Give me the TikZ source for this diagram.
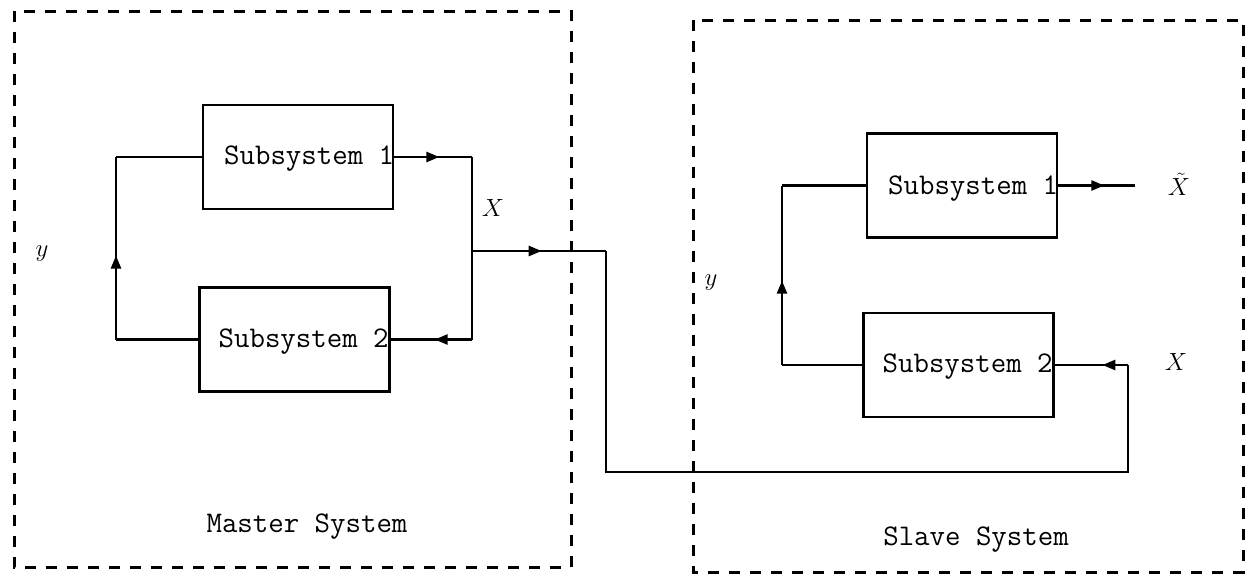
\documentclass[tikz,border=0pt]{standalone}
\usepackage{fontspec}
\usetikzlibrary{arrows.meta,decorations.markings}
\begin{document}
\begin{tikzpicture}[x=1pt,y=-1pt,
  line join=miter,
  sysbox/.style={draw,line width=3pt,dash pattern=on 11pt off 10pt},
  subbox/.style={draw,line width=2.6pt,minimum width=190pt,minimum height=104pt,inner sep=0pt},
  tt/.style={font=\fontsize{30}{36}\selectfont\ttfamily,inner sep=0pt},
  mathlbl/.style={font=\fontsize{34}{40}\selectfont,inner sep=0pt},
  wire/.style={draw,line width=2.5pt},
  arrowat/.style={postaction={decorate},decoration={markings,
     mark=at position #1 with {\arrow{Triangle[length=13pt,width=10pt]}}}}
]
\useasboundingbox (0,0) rectangle (1250,576);
% dashed system frames
\draw[sysbox] (14,11) rectangle (571,567);
\draw[sysbox] (693,20) rectangle (1243,572);
% master subsystems
\node[subbox] (m1) at (298,157) {};
\node[tt,anchor=east] (m1t) at ([yshift=-2pt]m1.east) {Subsystem 1};
\node[subbox] (m2) at (294.5,339.5) {};
\node[tt,anchor=east] (m2t) at ([yshift=-2pt,xshift=-2pt]m2.east) {Subsystem 2};
% slave subsystems
\node[subbox] (s1) at (962,185.5) {};
\node[tt,anchor=east] (s1t) at ([yshift=-3pt]s1.east) {Subsystem 1};
\node[subbox] (s2) at (958.5,365) {};
\node[tt,anchor=east] (s2t) at ([yshift=-2pt,xshift=-2pt]s2.east) {Subsystem 2};
% coordinates
\coordinate (mTL) at (116,157);
\coordinate (mBL) at (116,339.5);
\coordinate (mTR) at (472,157);
\coordinate (mBR) at (472,339.5);
\coordinate (mOut) at (472,251);
\coordinate (c1) at (606,251);
\coordinate (c2) at (1128,472);
\coordinate (c3) at (1128,365);
\coordinate (sTL) at (782,185.5);
\coordinate (sBL) at (782,365);
\coordinate (sOut) at (1135,185.5);
% master loop
\draw[wire] (m2.west) -- (mBL);
\draw[wire,arrowat=0.46] (mBL) -- (mTL);
\draw[wire] (mTL) -- (m1.west);
\draw[wire,arrowat=0.58] (m1.east) -- (mTR);
\draw[wire] (mTR) -- (mBR);
\draw[wire,arrowat=0.46] (mBR) -- (m2.east);
% coupling line
\draw[wire,arrowat=0.52] (mOut) -- (c1);
\draw[wire] (c1) |- (c2) -- (c3);
\draw[wire,arrowat=0.35] (c3) -- (s2.east);
% slave loop
\draw[wire] (s2.west) -- (sBL);
\draw[wire,arrowat=0.47] (sBL) -- (sTL);
\draw[wire] (sTL) -- (s1.west);
\draw[wire,arrowat=0.6] (s1.east) -- (sOut);
% labels
\node[mathlbl] (lX) at (493,208) {$X$};
\node[mathlbl] (ly) at (42,254) {$y$};
\node[mathlbl] (lys) at (711,283) {$y$};
\node[mathlbl] (lXt) at (1179,184) {$\tilde{X}$};
\node[mathlbl] (lXs) at (1176,362) {$X$};
\node[tt] (master) at (307,527) {Master System};
\node[tt] (slave) at (976,540) {Slave System};
\end{tikzpicture}
\end{document}
